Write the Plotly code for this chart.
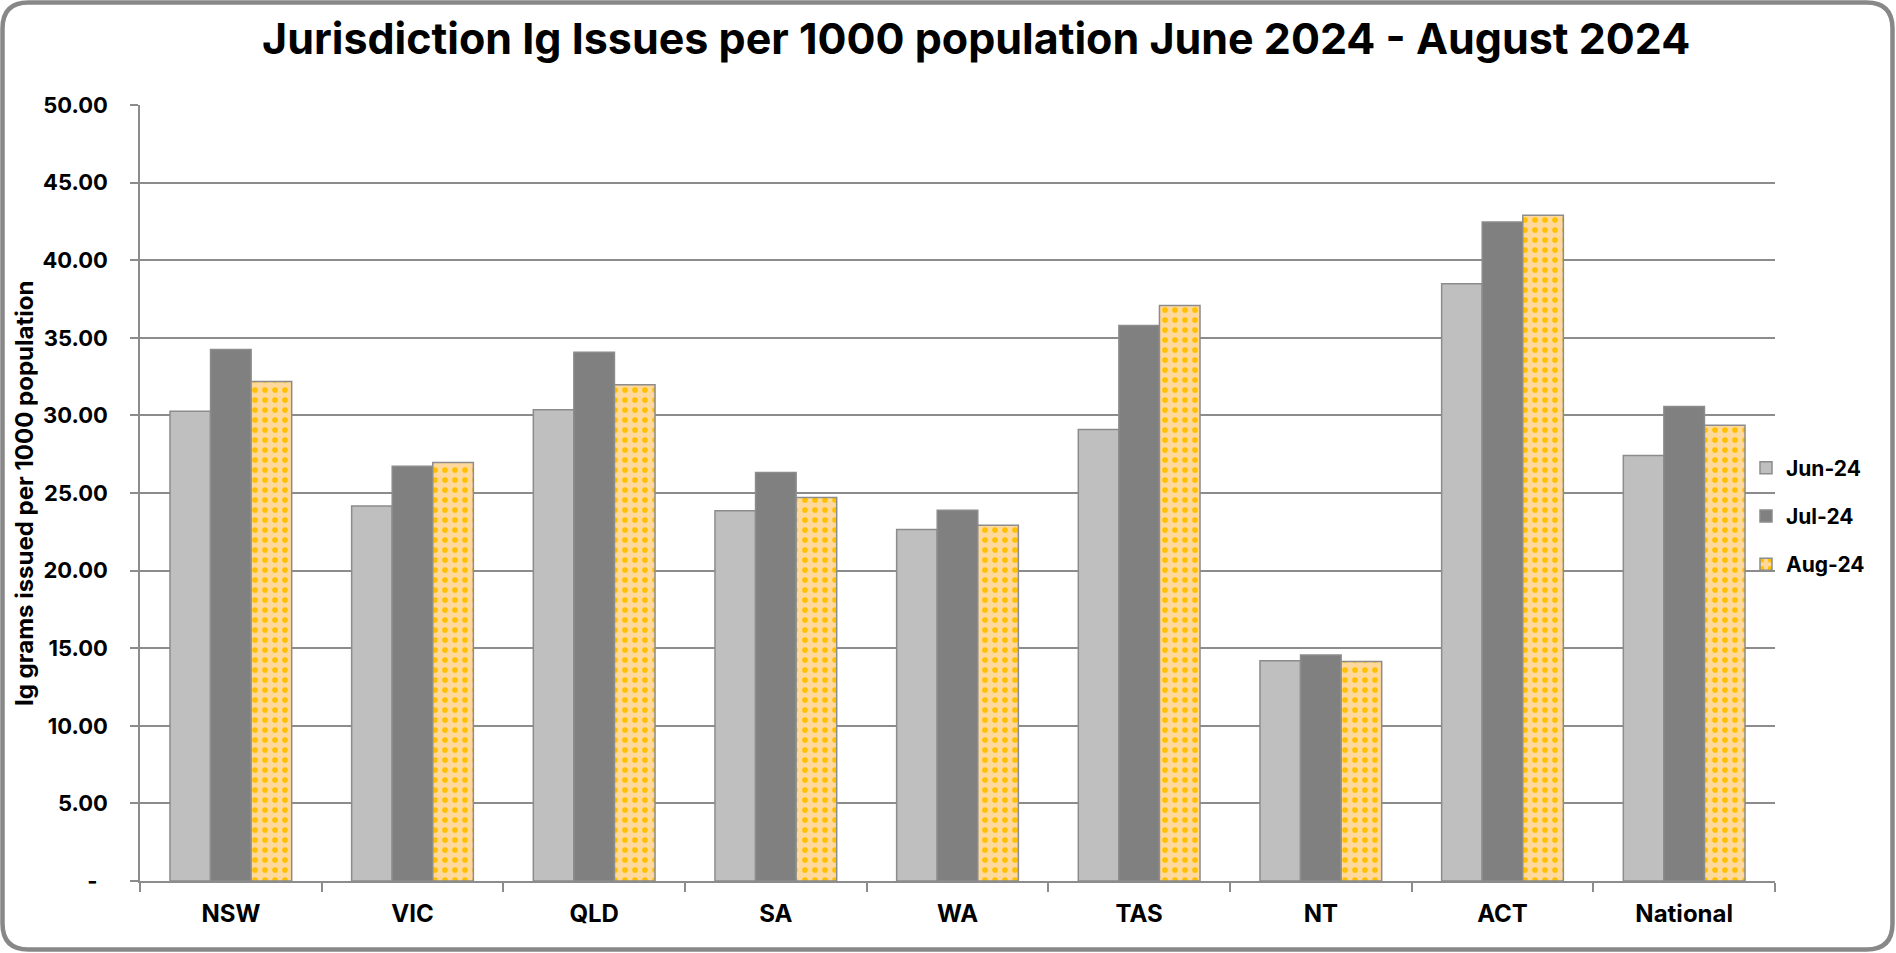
import plotly.graph_objects as go

# ---------------- data ----------------
categories = ["NSW", "VIC", "QLD", "SA", "WA", "TAS", "NT", "ACT", "National"]
jun_24 = [30.27, 24.17, 30.36, 23.85, 22.65, 29.09, 14.19, 38.49, 27.42]
jul_24 = [34.24, 26.73, 34.07, 26.32, 23.89, 35.79, 14.56, 42.46, 30.57]
aug_24 = [32.18, 26.96, 31.97, 24.71, 22.93, 37.08, 14.15, 42.89, 29.37]
series_names = ["Jun-24", "Jul-24", "Aug-24"]
y_tick_values = [0, 5, 10, 15, 20, 25, 30, 35, 40, 45, 50]
y_tick_labels = ["-\u00a0\u00a0", "5.00", "10.00", "15.00", "20.00", "25.00",
                 "30.00", "35.00", "40.00", "45.00", "50.00"]
title_text = "Jurisdiction Ig Issues per 1000 population June 2024 - August 2024"
y_title_text = "Ig grams issued per 1000 population"

# ---------------- layout geometry ----------------
W, H = 1896, 953
PL, PR, PT, PB = 140, 1775, 105, 881


def px(x):
    return (x - PL) / (PR - PL)


def py(y):
    return (PB - y) / (PB - PT)


GRID = "#8C8C8C"
FONT = "Inter"

fig = go.Figure()
fig.add_trace(go.Bar(
    x=categories, y=jun_24, name=series_names[0], legendgroup="a",
    marker=dict(color="#BFBFBF", line=dict(color=GRID, width=1.5)),
))
fig.add_trace(go.Bar(
    x=categories, y=jul_24, name=series_names[1], legendgroup="b",
    marker=dict(color="#808080", line=dict(color=GRID, width=1.5)),
))
fig.add_trace(go.Bar(
    x=categories, y=aug_24, name=series_names[2], legendgroup="c",
    marker=dict(color="#FFD89C", line=dict(color=GRID, width=1.5),
                pattern=dict(shape=".", fillmode="replace", bgcolor="#FFD89C",
                             fgcolor="#FFC000", size=10, solidity=0.25)),
))

# rounded border
x0, y0, x1, y1, r = 2.5, 2.5, 1892.5, 949.5, 26


def pt(x, y):
    return f"{px(x):.6f},{py(y):.6f}"


path = (f"M {pt(x0 + r, y0)} L {pt(x1 - r, y0)} Q {pt(x1, y0)} {pt(x1, y0 + r)} "
        f"L {pt(x1, y1 - r)} Q {pt(x1, y1)} {pt(x1 - r, y1)} "
        f"L {pt(x0 + r, y1)} Q {pt(x0, y1)} {pt(x0, y1 - r)} "
        f"L {pt(x0, y0 + r)} Q {pt(x0, y0)} {pt(x0 + r, y0)} Z")

fig.update_layout(
    width=W, height=H, autosize=False,
    margin=dict(l=PL, r=W - PR, t=PT, b=H - PB, pad=0),
    paper_bgcolor="white", plot_bgcolor="white",
    font=dict(family=FONT, color="black"),
    barmode="group", bargap=0.33, bargroupgap=0,
    showlegend=True,
    legend=dict(x=px(1746), xanchor="left", y=py(516), yanchor="middle",
                font=dict(size=21, family=FONT, color="black", weight="bold"),
                tracegroupgap=18, traceorder="grouped",
                bgcolor="rgba(0,0,0,0)", itemclick=False),
    xaxis=dict(
        type="category", tickson="boundaries", ticks="outside", ticklen=9,
        tickcolor=GRID, tickwidth=1.5, showline=True, linecolor=GRID, linewidth=1.5,
        showgrid=False, tickfont=dict(size=24, family=FONT, weight="bold"),
        ticklabelstandoff=10, fixedrange=True,
    ),
    yaxis=dict(
        range=[0, 50], tickvals=y_tick_values, ticktext=y_tick_labels,
        ticks="outside", ticklen=8, tickcolor=GRID, tickwidth=1.5,
        showline=True, linecolor=GRID, linewidth=1.5,
        showgrid=True, gridcolor=GRID, gridwidth=1.5, zeroline=False,
        tickfont=dict(size=22, family=FONT, weight="bold"),
        ticklabelstandoff=18, fixedrange=True,
    ),
    annotations=[
        dict(text=title_text, xref="paper", yref="paper", x=px(976), y=py(38),
             xanchor="center", yanchor="middle", showarrow=False,
             font=dict(size=43, family=FONT, color="black", weight="bold")),
        dict(text=y_title_text, xref="paper", yref="paper", x=px(24), y=py(494),
             xanchor="center", yanchor="middle", showarrow=False, textangle=-90,
             font=dict(size=24, family=FONT, color="black", weight="bold")),
    ],
    shapes=[dict(type="path", path=path, xref="paper", yref="paper",
                 line=dict(color="#888888", width=4.5), layer="above")],
)

fig.write_html("out.html", config={"displayModeBar": False},
               post_script="document.body.style.margin='0';")
